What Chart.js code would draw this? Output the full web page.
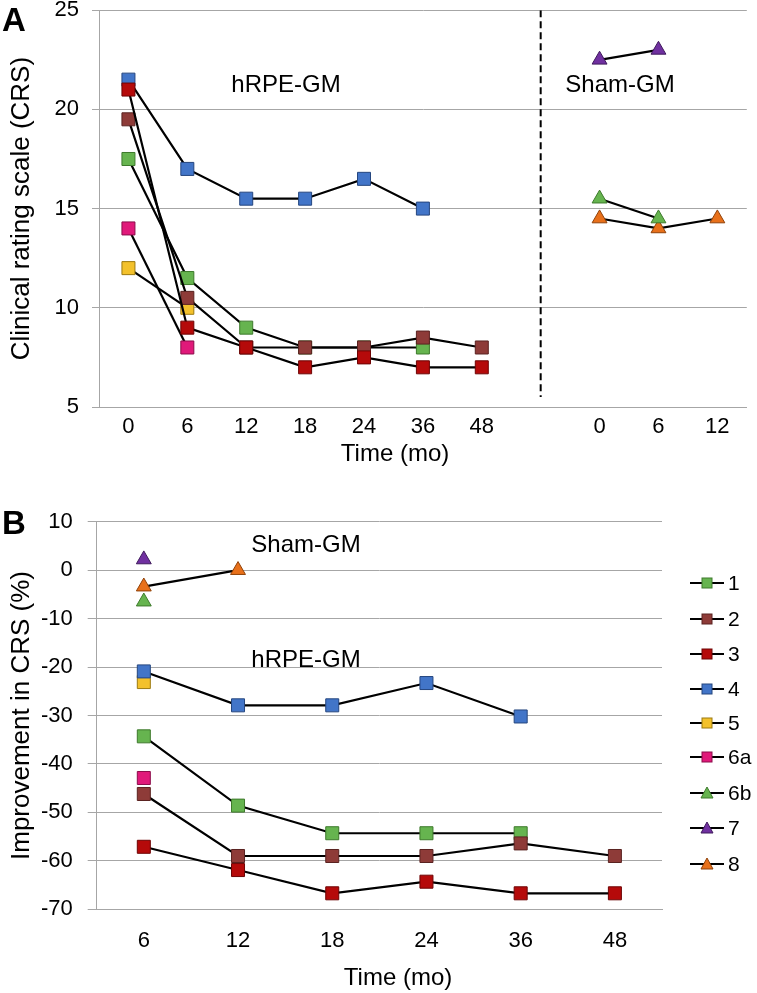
<!DOCTYPE html>
<html><head><meta charset="utf-8">
<script src="https://cdn.jsdelivr.net/npm/chart.js@4.4.0/dist/chart.umd.min.js"></script>
<style>
html,body{margin:0;padding:0;background:#fff;}
body{width:757px;height:993px;position:relative;overflow:hidden;font-family:"Liberation Sans",Arial,sans-serif;color:#000;}
canvas{position:absolute;left:0;}
#ca{top:0;}
#cb{top:470px;}
.t{position:absolute;white-space:nowrap;line-height:1;transform:translate(-50%,-50%);font-size:24px;}
.pl{position:absolute;font-weight:bold;font-size:33px;line-height:1;}
.lg{position:absolute;left:689px;height:24px;display:flex;align-items:center;font-size:21px;}
.lg svg{display:block;margin-right:3px;}
</style>
</head><body>
<canvas id="ca" width="757" height="470"></canvas>
<canvas id="cb" width="757" height="523"></canvas>
<div class="pl" style="left:2px;top:3px;">A</div>
<div class="pl" style="left:2px;top:506px;">B</div>
<div class="t" style="left:286px;top:84px;">hRPE-GM</div>
<div class="t" style="left:620px;top:84px;">Sham-GM</div>
<div class="t" style="left:306px;top:544px;">Sham-GM</div>
<div class="t" style="left:306px;top:659px;">hRPE-GM</div>
<div class="t" style="left:395px;top:453px;">Time (mo)</div>
<div class="t" style="left:398px;top:977px;">Time (mo)</div>
<div id="legend"></div>
<script>
// ---- categories / tick labels ----
const timeA = ['0','6','12','18','24','36','48','','0','6','12'];
const timeB = ['6','12','18','24','36','48'];
const patients = ['1','2','3','4','5','6a','6b','7','8'];
const fillColors = ['#66b44f','#8e3b38','#b50a0a','#4275c8','#f3c12b','#e0197a','#66b44f','#7030a0','#e8701a'];
const edgeColors = ['#3e7a2c','#5a2321','#6e0404','#25467f','#9c7a10','#8c0d4b','#3e7a2c','#3f1a5c','#8f4108'];
const markers = ['rect','rect','rect','rect','rect','rect','triangle','triangle','triangle'];

// ---- Panel A: clinical rating scale (CRS) ----
const crs_1  = [17.5, 11.5, 9, 8, 8, 8, null, null, null, null, null];
const crs_2  = [19.5, 10.5, 8, 8, 8, 8.5, 8, null, null, null, null];
const crs_3  = [21, 9, 8, 7, 7.5, 7, 7, null, null, null, null];
const crs_4  = [21.5, 17, 15.5, 15.5, 16.5, 15, null, null, null, null, null];
const crs_5  = [12, 10, null, null, null, null, null, null, null, null, null];
const crs_6a = [14, 8, null, null, null, null, null, null, null, null, null];
const crs_6b = [null, null, null, null, null, null, null, null, 15.5, 14.5, null];
const crs_7  = [null, null, null, null, null, null, null, null, 22.5, 23, null];
const crs_8  = [null, null, null, null, null, null, null, null, 14.5, 14, 14.5];
const dividerA = [25, 5.5];

// ---- Panel B: improvement in CRS (%) ----
const imp_1  = [-34.3, -48.6, -54.3, -54.3, -54.3, null];
const imp_2  = [-46.2, -59.0, -59.0, -59.0, -56.4, -59.0];
const imp_3  = [-57.1, -61.9, -66.7, -64.3, -66.7, -66.7];
const imp_4  = [-20.9, -27.9, -27.9, -23.3, -30.2, null];
const imp_5  = [-23.1, null, null, null, null, null];
const imp_6a = [-42.9, null, null, null, null, null];
const imp_6b = [-6.5, null, null, null, null, null];
const imp_7  = [2.2, null, null, null, null, null];
const imp_8  = [-3.4, 0, null, null, null, null];

const crsSeries = [crs_1, crs_2, crs_3, crs_4, crs_5, crs_6a, crs_6b, crs_7, crs_8];
const impSeries = [imp_1, imp_2, imp_3, imp_4, imp_5, imp_6a, imp_6b, imp_7, imp_8];
const drawOrder = [3, 2, 1, 4, 5, 6, 7, 8, 9];

const FONT = '"Liberation Sans", Arial, sans-serif';
const GRID = '#a6a6a6';

function makeSets(series) {
  return series.map((d, i) => ({
    label: patients[i],
    data: d,
    order: drawOrder[i],
    borderColor: '#000',
    borderWidth: 2.2,
    pointStyle: markers[i],
    pointRadius: markers[i] === 'rect' ? 9.2 : 8.6,
    pointBackgroundColor: fillColors[i],
    pointBorderColor: edgeColors[i],
    pointBorderWidth: 1,
    fill: false,
    tension: 0
  }));
}

function commonOpts(cfg) {
  return {
    responsive: false,
    animation: false,
    events: [],
    layout: { padding: cfg.padding },
    plugins: { legend: { display: false }, tooltip: { enabled: false } },
    scales: {
      x: {
        type: 'category',
        offset: true,
        grid: { display: false, drawTicks: false },
        border: { display: true, color: GRID, width: 1 },
        ticks: { color: '#000', font: { family: FONT, size: 22 }, padding: cfg.xpad, maxRotation: 0, autoSkip: false },
        afterFit: s => { s.height = cfg.xh; s.paddingLeft = 0; s.paddingRight = 0; }
      },
      y: {
        min: cfg.ymin, max: cfg.ymax,
        grid: { color: GRID, lineWidth: 1, drawTicks: true, tickLength: cfg.tl, tickColor: GRID },
        border: { display: true, color: GRID, width: 1 },
        ticks: { stepSize: cfg.step, color: '#000', font: { family: FONT, size: 22 }, padding: cfg.ypad },
        title: { display: true, text: cfg.ytitle, color: '#000', font: { family: FONT, size: 26 }, padding: { top: 6, bottom: 0 } },
        afterFit: s => { s.width = cfg.yw; s.paddingTop = 0; s.paddingBottom = 0; }
      }
    }
  };
}

// Panel A chart
const setsA = makeSets(crsSeries);
setsA.push({
  label: 'divider',
  data: [{ x: '', y: dividerA[0] }, { x: '', y: dividerA[1] }],
  order: 0,
  borderColor: '#000',
  borderWidth: 2,
  borderDash: [7, 4],
  pointRadius: 0,
  fill: false
});
new Chart(document.getElementById('ca'), {
  type: 'line',
  data: { labels: timeA, datasets: setsA },
  options: commonOpts({
    padding: { top: 9, right: 2, left: 0, bottom: 0 },
    xh: 63, xpad: 7, ymin: 5, ymax: 25, step: 5, tl: 7, ypad: 13, yw: 99,
    ytitle: 'Clinical rating scale (CRS)'
  })
});

// Panel B chart
new Chart(document.getElementById('cb'), {
  type: 'line',
  data: { labels: timeB, datasets: makeSets(impSeries) },
  options: commonOpts({
    padding: { top: 51.7, right: 95, left: 0, bottom: 0 },
    xh: 83.7, xpad: 18, ymin: -70, ymax: 10, step: 10, tl: 9, ypad: 15, yw: 96.7,
    ytitle: 'Improvement in CRS (%)'
  })
});

// Legend (HTML) for panel B
const legendY = [583, 619, 654, 689, 723, 757, 793, 828, 864];
const lg = document.getElementById('legend');
patients.forEach((p, i) => {
  const row = document.createElement('div');
  row.className = 'lg';
  row.style.top = (legendY[i] - 12) + 'px';
  let mk;
  if (markers[i] === 'rect') {
    mk = `<rect x="13" y="3" width="10" height="10" fill="${fillColors[i]}" stroke="${edgeColors[i]}" stroke-width="1"/>`;
  } else {
    mk = `<polygon points="18,2 24,13 12,13" fill="${fillColors[i]}" stroke="${edgeColors[i]}" stroke-width="1"/>`;
  }
  row.innerHTML = `<svg width="36" height="16"><line x1="1" y1="8" x2="35" y2="8" stroke="#000" stroke-width="2.2"/>${mk}</svg><span>${p}</span>`;
  lg.appendChild(row);
});
</script>
</body></html>
